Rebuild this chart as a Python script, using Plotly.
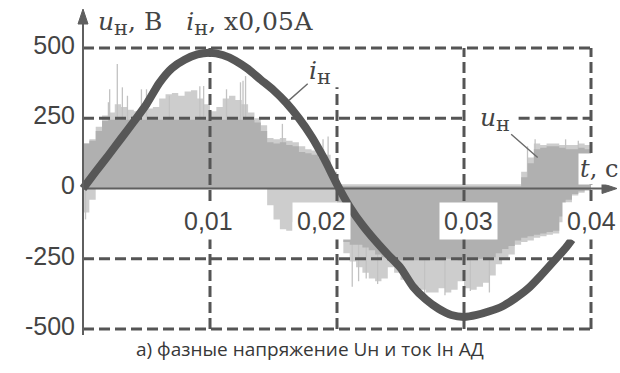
import plotly.graph_objects as go

# ---------------------------------------------------------------
# Phase voltage u_н (PWM record, grey) and phase current i_н (dark)
# ---------------------------------------------------------------

BIN = 0.0005                                   # width of one voltage bin, s
t_edges = [round(k * BIN, 5) for k in range(81)]   # bin edges, 0 … 0.04 s

# averaged level of the PWM voltage (dense grey), V
u_pos_solid = ([160, 170, 205, 240] + [245] * 23 +
               [235, 205, 165, 160, 165, 155, 150, 130, 125, 120, 110, 95, 40] +
               [8] * 29 +
               [40, 90, 140, 145, 150, 150, 145, 140, 140, 145, 140])
u_neg_solid = ([0] * 40 +
               [-150, -190, -200, -200, -210, -220, -235, -245, -250, -255,
                -255, -255, -255, -255, -255, -255, -255, -250, -250, -255,
                -255, -250, -250, -250, -245, -230, -215, -205, -185, -175,
                -170, -165, -160, -155, -150, -100, -40, -20, -10, -5])

# outer envelope of the switching pulses (light grey), V
u_pos_light = ([160, 175, 220, 260, 270, 300, 290, 280, 275, 280,
                285, 290, 320, 335, 340, 330, 345, 350, 320, 300,
                275, 290, 320, 330, 315, 300, 270, 250, 225, 180,
                175, 180, 170, 165, 150, 140, 135, 140, 120, 60] +
               [15] * 29 +
               [60, 110, 160, 155, 160, 160, 155, 155, 155, 160, 155])
u_neg_light = ([-85, -40] + [0] * 27 +
               [-60, -110, -145, -150, -120, -100, -100, -90, -90, -80, -60,
                -180, -230, -260, -280, -300, -320, -330, -320, -280, -300,
                -325, -340, -350, -360, -370, -370, -355, -370, -360, -330,
                -355, -360, -350, -335, -310, -270, -250, -235, -200, -190,
                -185, -175, -170, -165, -160, -120, -50, -25, -15, -8])

# single narrow pulses standing out of the envelope
spike_t = [0.0020, 0.0021, 0.0027, 0.0031, 0.0035, 0.0046, 0.0050, 0.0068,
           0.0092, 0.0095, 0.0113, 0.0124, 0.0126, 0.0128, 0.0157, 0.0189,
           0.0193, 0.0350, 0.0356, 0.0380, 0.0390,
           0.0002, 0.0212, 0.0217, 0.0223, 0.0232, 0.0269, 0.0285, 0.0305, 0.0320]
spike_v = [307, 353, 443, 360, 330, 353, 353, 330,
           364, 365, 353, 378, 383, 400, 230, 175,
           185, 150, 175, 175, 170,
           -110, -350, -330, -320, -340, -385, -380, -365, -370]

# phase current (scaled x0.05 A)
i_t = [0.000, 0.001, 0.002, 0.003, 0.004, 0.005, 0.006, 0.007, 0.008, 0.009,
       0.010, 0.011, 0.012, 0.013, 0.014, 0.015, 0.016, 0.017, 0.018, 0.019,
       0.020, 0.021, 0.022, 0.023, 0.024, 0.025, 0.026, 0.027, 0.028, 0.029,
       0.030, 0.031, 0.032, 0.033, 0.034, 0.035, 0.036, 0.037, 0.038, 0.0385]
i_vals = [0, 60, 118, 178, 238, 300, 375, 428, 458, 477,
          483, 475, 455, 425, 387, 350, 305, 250, 185, 105,
          15, -65, -130, -185, -235, -282, -350, -395, -428, -450,
          -457, -450, -437, -420, -392, -358, -312, -262, -212, -182]

# axes
y_ticks = [500, 250, 0, -250, -500]
y_ticktext = ["500", "250", "0", "-250", "-500"]
x_ticks = [0.01, 0.02, 0.03, 0.04]
x_ticktext = ["0,01", "0,02", "0,03", "0,04"]
x_tick_shift = [-2, -16, 4, 0]

# ---------------------------------------------------------------
W, H = 620, 373
X0_PX = 83                   # pixel column of t = 0
PX_PER_S = 12700.0
Y_TOP, Y_BOT = 670.8, -656.6
X_MIN = -X0_PX / PX_PER_S
X_MAX = (W - X0_PX) / PX_PER_S

GRID = "#555555"
AXIS = "#5f5f5f"
TEXT = "#444444"
SOLID = "#b0b0b0"
LIGHT = "#cdcdcd"
CURRENT = "#575757"
SERIF = "DejaVu Serif"

fig = go.Figure()


def step_area(values, color):
    """Stepped area between zero and the per-bin level."""
    return go.Scatter(x=t_edges, y=list(values) + [values[-1]], mode="lines",
                      line=dict(shape="hv", width=0, color=color),
                      fill="tozeroy", fillcolor=color, hoverinfo="skip")


def sub(txt, size):
    """Full-size lowered index letter, as used in the axis captions."""
    return f"<sub><span style='font-size:{size}px'>{txt}</span></sub>"


# light pulse envelope
fig.add_trace(step_area(u_pos_light, LIGHT))
fig.add_trace(step_area(u_neg_light, LIGHT))

# narrow pulses
sx, sy = [], []
for t, v in zip(spike_t, spike_v):
    sx += [t, t, None]
    sy += [0, v, None]
fig.add_trace(go.Scatter(x=sx, y=sy, mode="lines", line=dict(color="#c2c2c2", width=1.3),
                         hoverinfo="skip"))

# dense averaged voltage
fig.add_trace(step_area(u_pos_solid, SOLID))
fig.add_trace(step_area(u_neg_solid, SOLID))

# dashed grid
t_end = x_ticks[-1]
gx, gy = [], []
h_segments = {500: [(0, t_end)], 250: [(0, 0.030), (0.0343, t_end)],
              -250: [(0, t_end)], -500: [(0, t_end)]}
for v, segs in h_segments.items():
    for a, b in segs:
        gx += [a, b, None]
        gy += [v, v, None]
v_top = {0.01: 500, 0.02: 360, 0.03: 500, 0.04: 500}
for t in x_ticks:
    gx += [t, t, None]
    gy += [-500, v_top[t], None]
fig.add_trace(go.Scatter(x=gx, y=gy, mode="lines",
                         line=dict(color=GRID, width=3, dash="11px,5px"), hoverinfo="skip"))

# time axis (zero line)
fig.add_trace(go.Scatter(x=[0, X_MAX - 8 / PX_PER_S], y=[0, 0], mode="lines",
                         line=dict(color=AXIS, width=2), hoverinfo="skip"))

# current
fig.add_trace(go.Scatter(x=i_t, y=i_vals, mode="lines",
                         line=dict(color=CURRENT, width=8, shape="spline", smoothing=0.6),
                         hoverinfo="skip"))

# vertical axis line and arrow heads
py = (Y_TOP - Y_BOT) / H       # value units per pixel
px = 1 / PX_PER_S              # seconds per pixel
shapes = [
    dict(type="line", xref="x", yref="y", x0=0, x1=0, y0=-500 - 6 * py, y1=Y_TOP - 22 * py,
         line=dict(color=AXIS, width=2)),
    dict(type="path", xref="x", yref="y",
         path=f"M {-5*px},{Y_TOP-24*py} L 0,{Y_TOP-9*py} L {5*px},{Y_TOP-24*py} Z",
         fillcolor=AXIS, line=dict(color=AXIS, width=1)),
    dict(type="path", xref="x", yref="y",
         path=f"M {X_MAX-18*px},{5*py} L {X_MAX-3*px},0 L {X_MAX-18*px},{-5*py} Z",
         fillcolor=AXIS, line=dict(color=AXIS, width=1)),
]

annotations = []
for t, txt, sh in zip(x_ticks, x_ticktext, x_tick_shift):
    annotations.append(dict(x=t, y=-116, xref="x", yref="y", text=txt, showarrow=False,
                            xshift=sh, bgcolor="white", borderpad=4,
                            font=dict(family="Liberation Sans", size=25, color=TEXT)))

serif = dict(family=SERIF, size=25, color=TEXT)
annotations += [
    dict(x=13 * px, y=Y_TOP - 23 * py, xref="x", yref="y", xanchor="left", yanchor="middle",
         text=f"<i>u</i>{sub('н', 21)}, В&nbsp;&nbsp;&nbsp;<i>i</i>{sub('н', 21)}, х0,05А",
         showarrow=False, font=serif),
    dict(x=i_t[16], y=i_vals[16], xref="x", yref="y", text=f"<i>i</i>{sub('н', 21)}",
         showarrow=True, arrowhead=0, arrowwidth=1.4, arrowcolor="#6a6a6a",
         ax=34, ay=-30, standoff=4, font=serif),
    dict(x=0.0358, y=110, xref="x", yref="y", text=f"<i>u</i>{sub('н', 21)}",
         showarrow=True, arrowhead=0, arrowwidth=1.4, arrowcolor="#6a6a6a",
         ax=-43, ay=-38, font=serif),
    dict(x=0.0406, y=70, xref="x", yref="y", text="<i>t</i>,&nbsp;с",
         showarrow=False, bgcolor="white", borderpad=1,
         font=dict(family=SERIF, size=24, color=TEXT)),
    dict(x=0.5, y=1 - 349 / H, xref="paper", yref="paper", yanchor="middle",
         text="а) фазные напряжение Uн и ток Iн АД", showarrow=False,
         font=dict(family="Open Sans", size=19, color="#383838")),
]

fig.update_layout(
    width=W, height=H, margin=dict(l=0, r=0, t=0, b=0),
    paper_bgcolor="white", plot_bgcolor="white", showlegend=False,
    xaxis=dict(range=[X_MIN, X_MAX], visible=False, fixedrange=True),
    yaxis=dict(range=[Y_BOT, Y_TOP], anchor="free", position=X0_PX / W,
               tickvals=y_ticks, ticktext=y_ticktext, ticks="", showgrid=False,
               zeroline=False, showline=False, ticklabelstandoff=8, ticklabelshift=-3,
               tickfont=dict(family="Liberation Sans", size=25, color=TEXT),
               fixedrange=True),
    shapes=shapes, annotations=annotations,
)

fig.write_html("out.html")
